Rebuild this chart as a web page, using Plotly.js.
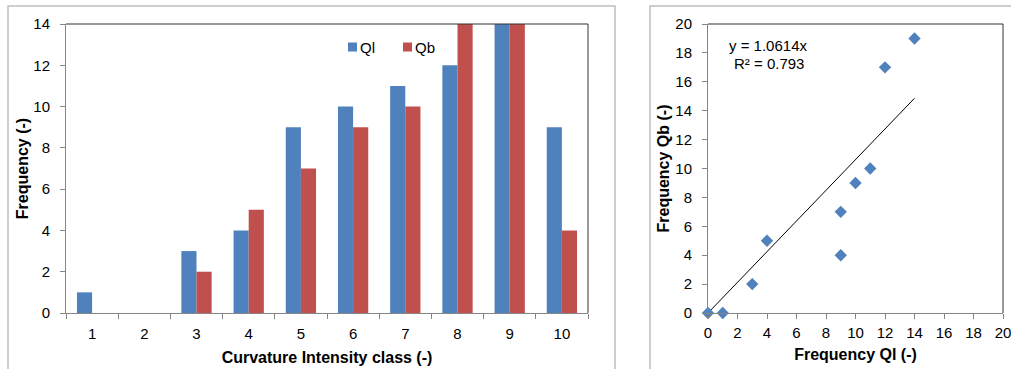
<!DOCTYPE html>
<html><head><meta charset="utf-8">
<script src="https://cdn.plot.ly/plotly-3.0.1.min.js"></script>
<style>html,body{margin:0;padding:0;background:#fff}#c{width:1011px;height:369px}</style>
</head><body><div id="c"></div>
<script>
const classes = ['1','2','3','4','5','6','7','8','9','10'];
const seriesNames = ['Ql', 'Qb'];
const qlValues = [1, 0, 3, 4, 9, 10, 11, 12, 14, 9];
const qbValues = [0, 0, 2, 5, 7, 9, 10, 17, 19, 4];
const trendSlope = 1.0614;
const trendR2 = 0.793;
const barTicks = [0,2,4,6,8,10,12,14];
const scatterTicks = [0,2,4,6,8,10,12,14,16,18,20];

const blue = '#4F81BD', red = '#C0504D';
const fam = 'Liberation Sans, Arial, sans-serif';
const font = {family: fam, size: 15, color: '#000'};
const tfont = {family: fam, size: 16, color: '#000', weight: 'bold'};
const xMax = Math.max(...qlValues);

const traces = [
  {type:'bar', x: classes, y: qlValues, name: seriesNames[0], marker:{color: blue}, xaxis:'x', yaxis:'y'},
  {type:'bar', x: classes, y: qbValues, name: seriesNames[1], marker:{color: red}, xaxis:'x', yaxis:'y'},
  {type:'scatter', mode:'lines', x:[0, xMax], y:[0, trendSlope*xMax], line:{color:'#000', width:1},
   xaxis:'x2', yaxis:'y2', hoverinfo:'skip'},
  {type:'scatter', mode:'markers', x: qlValues, y: qbValues, marker:{symbol:'diamond', size:9.5, color: blue},
   xaxis:'x2', yaxis:'y2', cliponaxis:false}
];

const axBase = {showgrid:false, zeroline:false, showline:true, linecolor:'#868686', linewidth:1,
  ticks:'outside', tickcolor:'#868686', ticklen:5, tickfont:font, ticklabeloverflow:'allow'};

// legend drawn as small squares + labels (names from seriesNames)
const legendX = [348, 403], legendY = 47;
const legendShapes = seriesNames.map((n, i) => ({type:'rect', xref:'paper', yref:'paper',
  x0: legendX[i]/1011, x1: (legendX[i]+9)/1011, y0: 1-(legendY+4.5)/369, y1: 1-(legendY-4.5)/369,
  fillcolor: [blue, red][i], line:{width:0}}));
const legendAnn = seriesNames.map((n, i) => ({xref:'paper', yref:'paper', x:(legendX[i]+10)/1011, y:1-legendY/369,
  xanchor:'left', yanchor:'middle', showarrow:false, text:n, font:font}));

const layout = {
  width:1011, height:369, margin:{l:0,r:0,t:0,b:0}, paper_bgcolor:'#fff', plot_bgcolor:'#fff',
  font: font, barmode:'group', bargap:0.42, bargroupgap:0,
  showlegend:false,
  xaxis: Object.assign({}, axBase, {domain:[66/1011, 588/1011], type:'category', tickson:'boundaries',
    anchor:'y', ticklabelstandoff:7,
    title:{text:'Curvature Intensity class (-)', font:tfont, standoff:10}}),
  yaxis: Object.assign({}, axBase, {domain:[1-313/369, 1-24/369], range:[0,14], tickvals:barTicks, anchor:'x',
    ticklabelstandoff:7,
    title:{text:'Frequency (-)', font:tfont, standoff:0}}),
  xaxis2: Object.assign({}, axBase, {domain:[708/1011, 1003/1011], range:[0,20], tickvals:scatterTicks, anchor:'y2',
    ticklabelstandoff:1,
    title:{text:'Frequency Ql (-)', font:tfont, standoff:8}}),
  yaxis2: Object.assign({}, axBase, {domain:[1-313/369, 1-24/369], range:[0,20], tickvals:scatterTicks, anchor:'x2',
    ticklabelstandoff:7,
    title:{text:'Frequency Qb (-)', font:tfont, standoff:1}}),
  shapes: [
    {type:'rect', xref:'paper', yref:'paper', x0:8/1011, x1:615/1011, y0:-0.05, y1:1-6/369, line:{color:'#BFBFBF', width:1.5}},
    {type:'rect', xref:'paper', yref:'paper', x0:650/1011, x1:1.05, y0:-0.05, y1:1-6/369, line:{color:'#BFBFBF', width:1.5}},
    {type:'line', xref:'x domain', yref:'y domain', x0:0, x1:1, y0:1, y1:1, line:{color:'#333', width:1}},
    {type:'line', xref:'x domain', yref:'y domain', x0:1, x1:1, y0:0, y1:1, line:{color:'#333', width:1}},
    {type:'line', xref:'x2 domain', yref:'y2 domain', x0:0, x1:1, y0:1, y1:1, line:{color:'#333', width:1}},
    {type:'line', xref:'x2 domain', yref:'y2 domain', x0:1, x1:1, y0:0, y1:1, line:{color:'#333', width:1}}
  ].concat(legendShapes),
  annotations: [
    {xref:'paper', yref:'paper', x:727/1011, y:1-45/369, xanchor:'left', yanchor:'middle', showarrow:false,
     text:'y = ' + trendSlope + 'x', font:font},
    {xref:'paper', yref:'paper', x:732/1011, y:1-63/369, xanchor:'left', yanchor:'middle', showarrow:false,
     text:'R² = ' + trendR2, font:font}
  ].concat(legendAnn)
};
Plotly.newPlot('c', traces, layout, {displayModeBar:false, staticPlot:true});
</script></body></html>
